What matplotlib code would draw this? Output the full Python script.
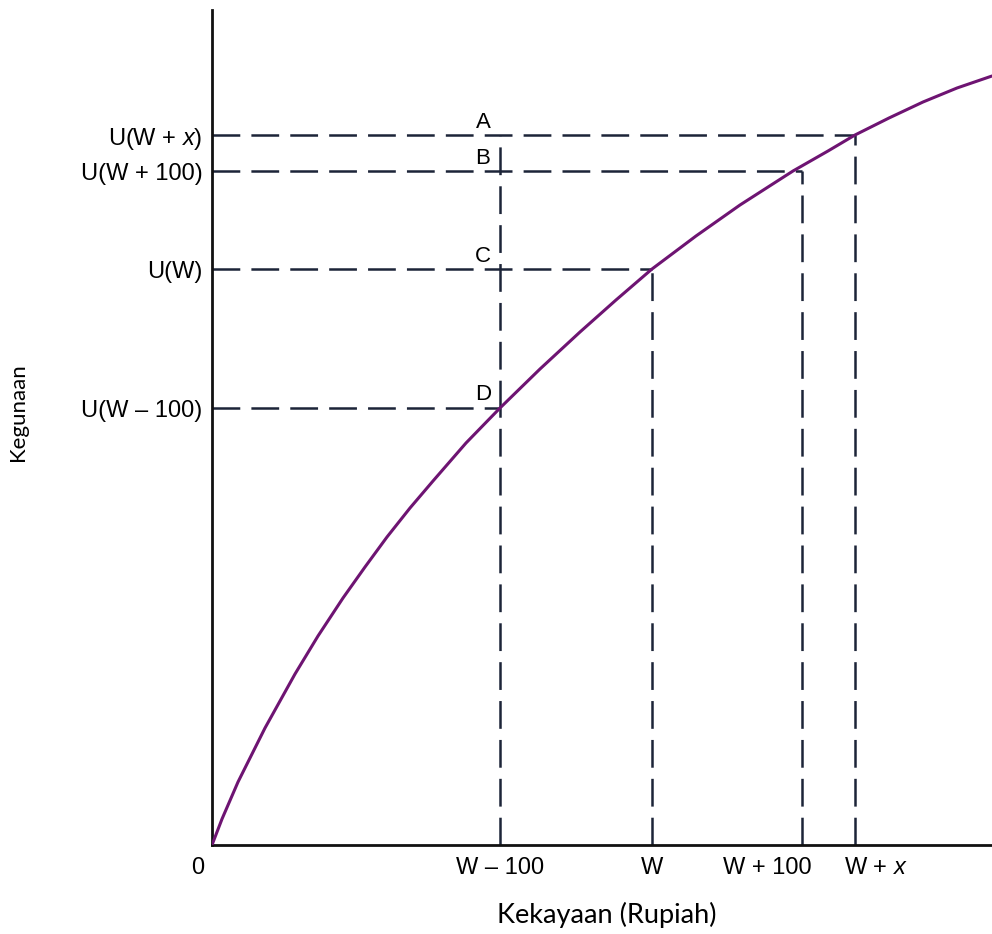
import matplotlib
matplotlib.use('Agg')
import matplotlib.pyplot as plt

plt.rcParams['font.family'] = ['Liberation Sans', 'DejaVu Sans']
plt.rcParams['mathtext.fontset'] = 'custom'
plt.rcParams['mathtext.it'] = 'Liberation Sans:italic'
plt.rcParams['mathtext.rm'] = 'Liberation Sans'
plt.rcParams['lines.scale_dashes'] = False

# utility curve (wealth, utility) in arbitrary units
wealth = [0, 10, 26, 40, 53, 68, 83, 106, 131, 153, 175, 198, 221, 254, 288,
          328, 368, 404, 440, 484, 528, 581, 616, 643, 677, 711, 745, 780]
utility = [0, 26, 63, 91, 117, 144, 171, 209, 247, 278, 308, 337, 364, 402, 437,
           476, 513, 545, 576, 609, 640, 674, 694, 710, 727, 743, 757, 769]

# marked wealth levels and their utilities
x_ticks = [288, 440, 590, 643]
x_labels = ['W \u2013 100', 'W', 'W + 100', 'W + $\\mathit{x}$']
y_ticks = [437, 576, 674, 710]
y_labels = ['U(W \u2013 100)', 'U(W)', 'U(W + 100)', 'U(W + $\\mathit{x}$)']
letters = ['D', 'C', 'B', 'A']

dash_col = '#1c2438'
dash = (0, (20, 8))

fig = plt.figure(figsize=(9.92, 9.34), dpi=100)
ax = fig.add_axes([212/992, 89/934, 780/992, 835/934])
ax.set_xlim(0, 780)
ax.set_ylim(0, 835)

# dashed guides
for xt, yt in zip(x_ticks, y_ticks):
    ax.plot([0, xt], [yt, yt], color=dash_col, lw=1.8, linestyle=dash, zorder=1)
    ax.plot([xt, xt], [0, yt], color=dash_col, lw=1.8, linestyle=dash, zorder=1)
# W-100 vertical goes up to the top guide
ax.plot([x_ticks[0], x_ticks[0]], [y_ticks[0], y_ticks[-1]], color=dash_col,
        lw=1.8, linestyle=dash, zorder=1)

ax.plot(wealth, utility, color='#6e1472', lw=2.2, zorder=3,
        solid_joinstyle='round', solid_capstyle='round')

for yt, lab in zip(y_ticks, letters):
    ax.text(x_ticks[0] - 17, yt + 13, lab, ha='center', va='center', fontsize=16)

# x labels sit a little off their ticks in the original
x_shift = [0, 0, -35, 21]
ax.set_xticks(x_ticks)
ax.set_xticklabels([])
for xt, sh, lab in zip(x_ticks, x_shift, x_labels):
    ax.text(xt + sh, -23, lab, ha='center', va='center', fontsize=17)
ax.set_yticks(y_ticks)
ax.set_yticklabels(y_labels, fontsize=17)
ax.tick_params(length=0, pad=7)
ax.text(-14, -23, '0', ha='center', va='center', fontsize=17)

for s in ['top', 'right']:
    ax.spines[s].set_visible(False)
for s in ['left', 'bottom']:
    ax.spines[s].set_linewidth(2)
    ax.spines[s].set_color('#111111')

fig.text(607/992, 1 - 915/934, 'Kekayaan (Rupiah)', ha='center', va='center',
         fontsize=19.5, family=['Lato', 'DejaVu Sans'])
fig.text(18/992, 1 - 412/934, 'Kegunaan', ha='center', va='center', rotation=90,
         fontsize=16, family=['Lato', 'DejaVu Sans'])

fig.savefig('out.png', dpi=100)
